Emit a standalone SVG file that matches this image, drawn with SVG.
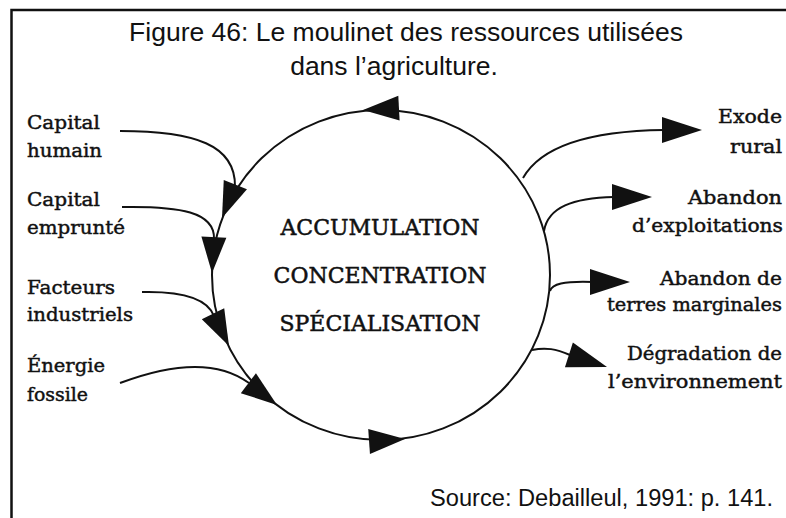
<svg xmlns="http://www.w3.org/2000/svg" xmlns:xlink="http://www.w3.org/1999/xlink" width="786" height="518" viewBox="0 0 786 518">
<style>
.title{font-family:"Liberation Sans",Arial,sans-serif;font-size:26.5px;fill:#111}
.src{font-family:"Liberation Sans",Arial,sans-serif;font-size:23.5px;fill:#111}
.lbl{font-family:"DejaVu Serif","Liberation Serif",serif;font-size:19px;fill:#111;stroke:#111;stroke-width:0.45}
.ctr{font-family:"DejaVu Serif","Liberation Serif",serif;font-size:22px;fill:#111;stroke:#111;stroke-width:0.5;text-anchor:middle}
.ln{fill:none;stroke:#111;stroke-width:2}
.ah{fill:#111}
</style>
<defs>
<path id="ahC" d="M0,0 L-36,-12.5 L-36,12.5 Z"/>
<path id="ahO" d="M0,0 L-40,-13 L-40,13 Z"/>
</defs>
<rect width="786" height="518" fill="#fff"/>
<g id="frame">
<path d="M11.5,518 L11.5,10 L786,10" fill="none" stroke="#111" stroke-width="2.5"/>
</g>
<g id="title">
<text class="title" x="406" y="41" text-anchor="middle">Figure 46: Le moulinet des ressources utilisées</text>
<text class="title" x="394" y="75" text-anchor="middle">dans l’agriculture.</text>
</g>
<g id="cycle">
<ellipse cx="381" cy="275" rx="169" ry="165" class="ln"/>
<use href="#ahC" class="ah" transform="translate(363,110) rotate(177)"/>
<use href="#ahC" class="ah" transform="translate(405,439) rotate(-4)"/>
<text class="ctr" x="380" y="235">ACCUMULATION</text>
<text class="ctr" x="380" y="283">CONCENTRATION</text>
<text class="ctr" x="380" y="331">SPÉCIALISATION</text>
</g>
<g id="connectors">
<path class="ln" d="M120,131 C195,131 236,145 235,187"/>
<path class="ln" d="M122,207 C180,206 215,212 214,239"/>
<path class="ln" d="M142,292 C185,291 208,300 214,316"/>
<path class="ln" d="M120,383 C165,366 215,358 249,383"/>
<path class="ln" d="M523,178 C540,148 585,131 664,130"/>
<path class="ln" d="M544,231 C548,207 573,198 614,197"/>
<path class="ln" d="M550,291 C552,284 563,281 593,282"/>
<path class="ln" d="M532,350 C546,347 556,349 570,355"/>
<use href="#ahC" class="ah" transform="translate(222,218) rotate(111.8)"/>
<use href="#ahC" class="ah" transform="translate(212,273) rotate(93)"/>
<use href="#ahC" class="ah" transform="translate(229,346) rotate(63.6)"/>
<use href="#ahC" class="ah" transform="translate(277,405) rotate(37.3)"/>
<use href="#ahO" class="ah" transform="translate(702,130)"/>
<use href="#ahO" class="ah" transform="translate(652,197)"/>
<use href="#ahO" class="ah" transform="translate(630,282)"/>
<use href="#ahO" class="ah" transform="translate(607,367) rotate(17.8)"/>
</g>
<g id="capital-humain"><text class="lbl" x="27" y="129" textLength="73" lengthAdjust="spacingAndGlyphs">Capital</text><text class="lbl" x="27" y="157" textLength="75" lengthAdjust="spacingAndGlyphs">humain</text></g>
<g id="capital-emprunte"><text class="lbl" x="27" y="206" textLength="73" lengthAdjust="spacingAndGlyphs">Capital</text><text class="lbl" x="27" y="234" textLength="98" lengthAdjust="spacingAndGlyphs">emprunté</text></g>
<g id="facteurs-industriels"><text class="lbl" x="27" y="294" textLength="88" lengthAdjust="spacingAndGlyphs">Facteurs</text><text class="lbl" x="27" y="321" textLength="106" lengthAdjust="spacingAndGlyphs">industriels</text></g>
<g id="energie-fossile"><text class="lbl" x="27" y="372" textLength="78" lengthAdjust="spacingAndGlyphs">Énergie</text><text class="lbl" x="27" y="401" textLength="61" lengthAdjust="spacingAndGlyphs">fossile</text></g>
<g id="exode-rural"><text class="lbl" x="718" y="123" textLength="64" lengthAdjust="spacingAndGlyphs">Exode</text><text class="lbl" x="730" y="153" textLength="52" lengthAdjust="spacingAndGlyphs">rural</text></g>
<g id="abandon-exploitations"><text class="lbl" x="688" y="204" textLength="94" lengthAdjust="spacingAndGlyphs">Abandon</text><text class="lbl" x="632" y="232" textLength="151" lengthAdjust="spacingAndGlyphs">d’exploitations</text></g>
<g id="abandon-terres"><text class="lbl" x="660" y="285" textLength="122" lengthAdjust="spacingAndGlyphs">Abandon de</text><text class="lbl" x="607" y="311" textLength="175" lengthAdjust="spacingAndGlyphs">terres marginales</text></g>
<g id="degradation"><text class="lbl" x="627" y="360" textLength="155" lengthAdjust="spacingAndGlyphs">Dégradation de</text><text class="lbl" x="608" y="388" textLength="174" lengthAdjust="spacingAndGlyphs">l’environnement</text></g>
<g id="source"><text class="src" x="430" y="506" textLength="343" lengthAdjust="spacingAndGlyphs">Source: Debailleul, 1991: p. 141.</text></g>
</svg>
